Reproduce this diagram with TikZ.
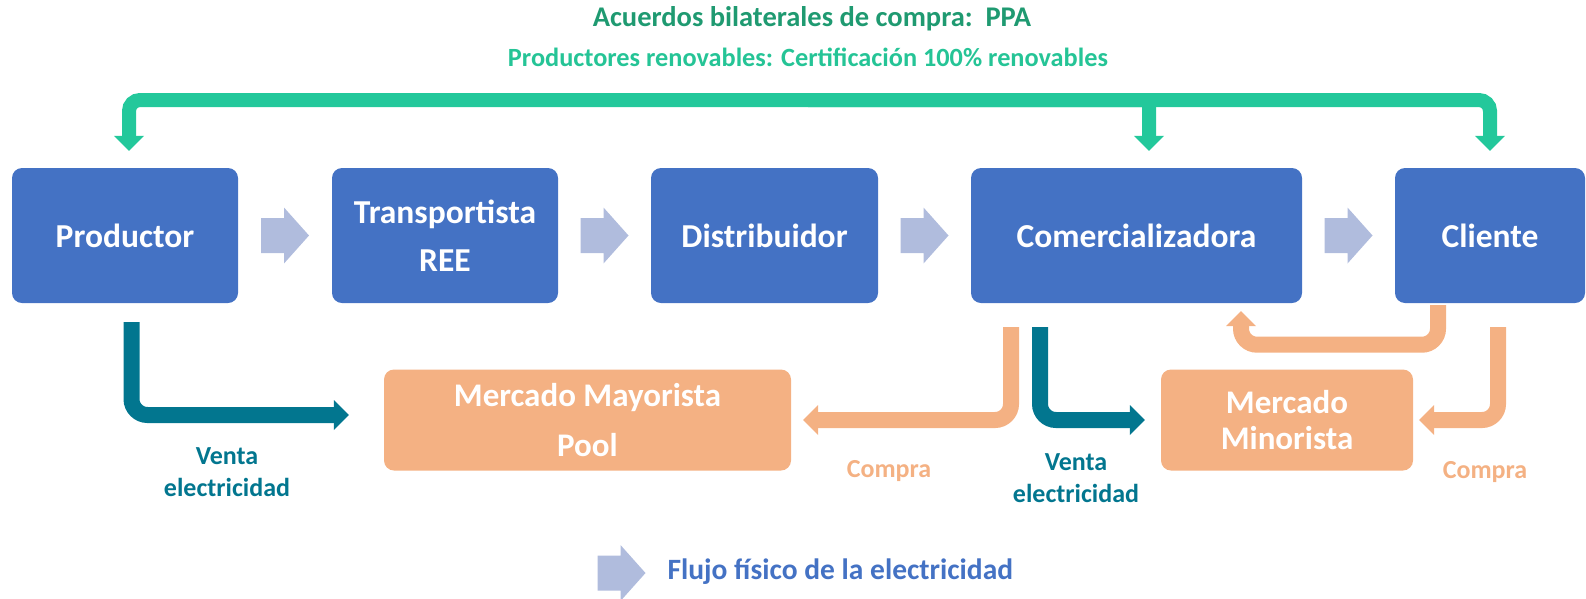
\documentclass[tikz,border=0pt]{standalone}
\usepackage{fontspec}
\setmainfont{Carlito}
\usetikzlibrary{arrows.meta,calc}
\definecolor{boxblue}{HTML}{4472C4}
\definecolor{flowc}{HTML}{B0BCDD}
\definecolor{peach}{HTML}{F4B183}
\definecolor{tealc}{HTML}{02768F}
\definecolor{greenl}{HTML}{23C89B}
\definecolor{titlec}{HTML}{1F9A71}
\definecolor{subc}{HTML}{25C496}
\tikzset{
  box/.style={rectangle, rounded corners=10pt, fill=boxblue, text=white,
    font=\bfseries\fontsize{33.5}{48}\selectfont, align=center, inner sep=0pt,
    minimum height=135pt},
  mkt/.style={rectangle, rounded corners=10pt, fill=peach, text=white,
    align=center, inner sep=0pt, minimum height=101pt},
  tip/.style={-{Triangle[length=15pt,width=30pt,line width=0pt]}},
  gline/.style={draw=greenl, line width=14pt},
  tline/.style={draw=tealc, line width=16pt, rounded corners=16pt, tip},
  pline/.style={draw=peach, line width=16pt, rounded corners=16pt, tip},
  lbl/.style={font=\bfseries\fontsize{26}{32}\selectfont, align=center},
  flowarrow/.pic={\fill[flowc] (-24,-17.5) -- (-1,-17.5) -- (-1,-28) -- (24,0)
    -- (-1,28) -- (-1,17.5) -- (-24,17.5) -- cycle;}
}
\begin{document}
\begin{tikzpicture}[x=1pt,y=-1pt]
\useasboundingbox (0,0) rectangle (1586,598);
% titles
\node[font=\bfseries\fontsize{28.5}{34}\selectfont, text=titlec] (ppa) at (812,19) {Acuerdos bilaterales de compra:\ \ PPA};
\node[font=\bfseries\fontsize{26.3}{30}\selectfont, text=subc] (cert) at (808,57) {Productores renovables: Certificación 100\% renovables};
% boxes
\node[box, minimum width=226pt] (prod) at (125,235.5) {Productor};
\node[box, minimum width=226pt] (tra) at (445,235.5) {Transportista\\REE};
\node[box, minimum width=227pt] (dis) at (764.5,235.5) {Distribuidor};
\node[box, minimum width=331pt] (com) at (1136.5,235.5) {Comercializadora};
\node[box, minimum width=190pt] (cli) at (1490,235.5) {Cliente};
\node[mkt, minimum width=407pt, font=\bfseries\fontsize{33}{50}\selectfont] (may) at (587.5,420) {Mercado Mayorista\\Pool};
\node[mkt, minimum width=252pt, font=\bfseries\fontsize{33}{36}\selectfont] (min) at (1287,420) {Mercado\\Minorista};
% physical flow arrows
\pic at ($(prod.east)!0.5!(tra.west)$) {flowarrow};
\pic at ($(tra.east)!0.5!(dis.west)$) {flowarrow};
\pic at ($(dis.east)!0.5!(com.west)$) {flowarrow};
\pic at ($(com.east)!0.5!(cli.west)$) {flowarrow};
% PPA bracket
\coordinate (bar) at (808,100);
\draw[gline, rounded corners=11pt, {Triangle[length=15pt,width=30pt,line width=0pt]}-{Triangle[length=15pt,width=30pt,line width=0pt]}]
  ([shift={(4,-17)}]prod.north) |- (bar) -| ([shift={(0,-17)}]cli.north);
\draw[gline, rounded corners=6pt, tip] (bar) -| ([shift={(12.5,-17)}]com.north);
% market connectors
\draw[tline] ([shift={(6.5,19)}]prod.south) |- ([shift={(-35,-5)}]may.west);
\draw[pline] ([shift={(-125.5,24)}]com.south) |- ([shift={(12,0)}]may.east);
\draw[tline] ([shift={(-96.5,24)}]com.south) |- ([shift={(-16,0)}]min.west);
\draw[pline] ([shift={(8,24)}]cli.south) |- ([shift={(6,0)}]min.east);
\draw[pline] ([shift={(-52,2)}]cli.south) -- ++(0,39.5) -| ([shift={(104.5,8)}]com.south);
% labels
\node[lbl, text=tealc] (v1) at (227,472) {Venta\\electricidad};
\node[lbl, text=tealc] (v2) at (1076,478) {Venta\\electricidad};
\node[lbl, text=peach] (c1) at (889,471) {Compra};
\node[lbl, text=peach] (c2) at (1485,472) {Compra};
% legend
\pic at (621.5,573) {flowarrow};
\node[anchor=west, font=\bfseries\fontsize{29.5}{34}\selectfont, text=boxblue] (leg) at (664,572) {Flujo físico de la electricidad};
\end{tikzpicture}
\end{document}
